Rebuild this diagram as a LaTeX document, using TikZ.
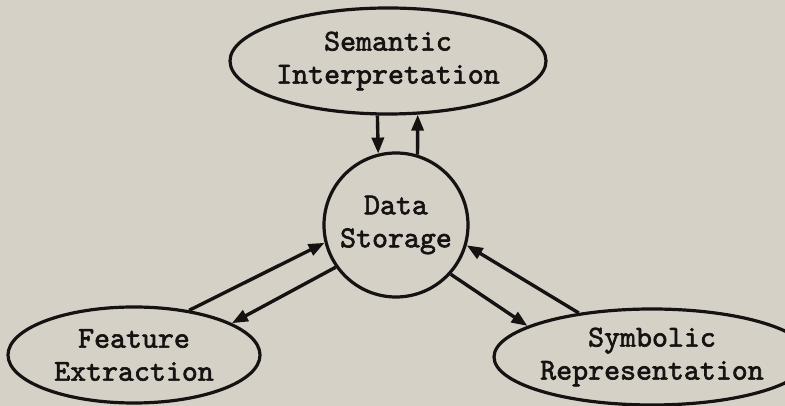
\documentclass[tikz,border=0pt]{standalone}
\usepackage{fontspec}
\setmonofont[FakeBold=2]{lmmono10-regular.otf}
\usetikzlibrary{shapes.geometric,arrows.meta}
\definecolor{paper}{RGB}{214,209,199}
\definecolor{ink}{RGB}{22,18,18}
\begin{document}
\begin{tikzpicture}[x=1pt,y=1pt,
  lbl/.style={draw=ink,line width=3.2pt,inner sep=0pt,align=center,
    font=\fontsize{30.4}{33}\selectfont\ttfamily,text=ink},
  blob/.style={lbl,ellipse},
  hub/.style={lbl,circle,minimum size=144pt},
  arr/.style={draw=ink,line width=3.4pt,-{Triangle[length=16pt,width=12pt]}}]
\fill[paper] (0,0) rectangle (785,406);
\useasboundingbox (0,0) rectangle (785,406);
\node[blob,minimum width=286pt,minimum height=106pt] (sem) at (388,345) {Semantic\\Interpretation};
\node[hub] (data) at (396,181) {Data\\Storage};
\node[blob,minimum width=252pt,minimum height=96pt] (feat) at (134,51) {Feature\\Extraction};
\node[blob,minimum width=262pt,minimum height=96pt] (symb) at (652,49) {Symbolic\\Representation};
\draw[arr] (sem.259.3) -- (data.104.5);
\draw[arr] (data.73.9) -- (sem.-61.7);
\draw[arr] (feat.39.5) -- (data.194);
\draw[arr] (data.215.9) -- (feat.18.8);
\draw[arr] (symb.149.8) -- (data.-16.9);
\draw[arr] (data.-42.1) -- (symb.166);
\end{tikzpicture}
\end{document}
